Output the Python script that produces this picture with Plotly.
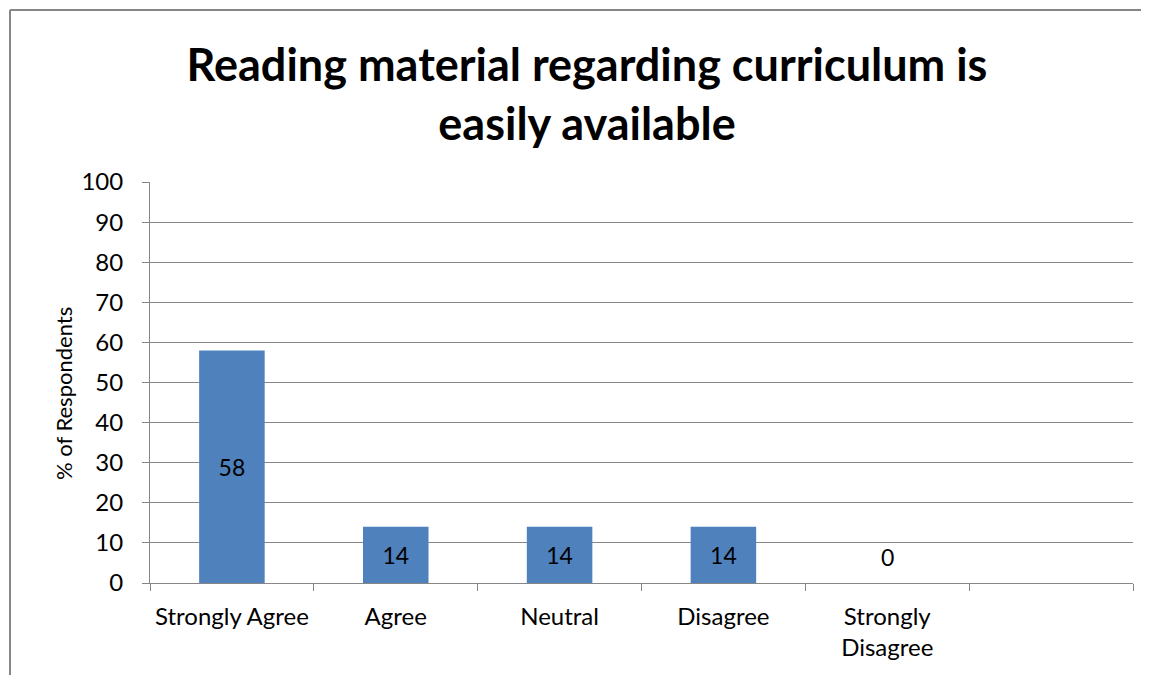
import plotly.graph_objects as go

categories = ["Strongly Agree", "Agree", "Neutral", "Disagree", "Strongly<br>Disagree"]
values = [58, 14, 14, 14, 0]
all_slots = categories + [" "]
y_ticks = [0, 10, 20, 30, 40, 50, 60, 70, 80, 90, 100]

title_text = "Reading material regarding curriculum is<br>easily available"
y_title = "% of Respondents"

FONT = "Lato"
GRID = "#868686"
BAR = "#4F81BD"

W, H = 1149, 675
OFF = 8  # page body margin
L, T = 150 - OFF, 182 - OFF
R = W - (1133 - OFF)
B = H - (583 - OFF)
pw, ph = W - L - R, H - T - B

def px_x(x):
    return (x - OFF - L) / pw

def px_y(y):
    return (H - B - (y - OFF)) / ph

nonzero_text = [str(v) if v != 0 else "" for v in values]

fig = go.Figure()
fig.add_trace(go.Bar(
    x=categories, y=values,
    marker=dict(color=BAR, line=dict(width=0)),
    width=0.4,
    text=nonzero_text, textposition="inside", insidetextanchor="middle",
    textfont=dict(family=FONT, size=23, color="black"),
    textangle=0,
    hoverinfo="skip",
))

for c, v in zip(categories, values):
    if v == 0:
        fig.add_annotation(x=c, y=v, text=str(v), showarrow=False,
                           yshift=26, font=dict(family=FONT, size=23, color="black"))

# y axis title
fig.add_annotation(xref="paper", yref="paper", x=px_x(63), y=px_y(394),
                   text=y_title, textangle=-90, showarrow=False,
                   xanchor="center", yanchor="middle",
                   font=dict(family=FONT, size=22, color="black"))

# outer chart frame
fig.add_shape(type="line", xref="paper", yref="paper",
              x0=px_x(10), x1=px_x(1400), y0=px_y(10), y1=px_y(10),
              line=dict(color=GRID, width=2))
fig.add_shape(type="line", xref="paper", yref="paper",
              x0=px_x(10), x1=px_x(10), y0=px_y(10), y1=px_y(900),
              line=dict(color=GRID, width=2))

fig.update_layout(
    width=W, height=H,
    margin=dict(l=L, r=R, t=T, b=B, autoexpand=False),
    paper_bgcolor="white", plot_bgcolor="white",
    showlegend=False,
    bargap=0.6,
    title=dict(text=title_text, x=(587 - OFF) / W, xref="container", xanchor="center",
               y=1 - (81 - OFF) / H, yref="container", yanchor="middle",
               font=dict(family=FONT, size=45, color="black", weight="bold")),
    xaxis=dict(
        type="category", categoryorder="array", categoryarray=all_slots,
        range=[-0.5, len(all_slots) - 0.5],
        tickson="boundaries", ticks="outside", ticklen=7, tickcolor=GRID,
        showline=True, linecolor=GRID, linewidth=1,
        showgrid=False, zeroline=False,
        ticklabelstandoff=12,
        tickfont=dict(family=FONT, size=24, color="black"),
    ),
    yaxis=dict(
        range=[0, 100], tickmode="array", tickvals=y_ticks,
        ticks="outside", ticklen=7, tickcolor=GRID,
        showline=True, linecolor=GRID, linewidth=1,
        showgrid=True, gridcolor=GRID, gridwidth=1, zeroline=False,
        ticklabelstandoff=14,
        tickfont=dict(family=FONT, size=24, color="black"),
    ),
)

fig.write_html("out.html")
